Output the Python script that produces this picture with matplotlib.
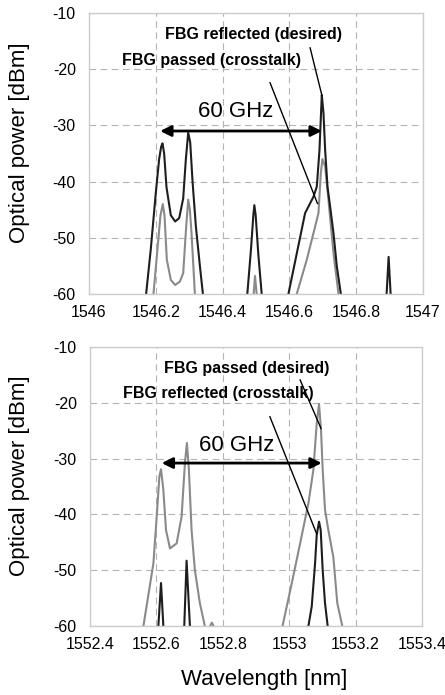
import matplotlib
matplotlib.use("Agg")
import matplotlib.pyplot as plt

plt.rcParams["font.family"] = ["Liberation Sans", "DejaVu Sans"]

# top panel (1546 nm band)
top_reflected_x = [1546.160, 1546.171, 1546.185, 1546.200, 1546.210, 1546.216, 1546.220, 1546.225,
                   1546.232, 1546.245, 1546.258, 1546.270, 1546.282, 1546.290, 1546.297, 1546.303,
                   1546.310, 1546.320, 1546.332, 1546.341, 1546.350,
                   1546.465, 1546.474, 1546.485, 1546.492, 1546.495, 1546.499, 1546.507, 1546.517, 1546.525,
                   1546.590, 1546.597, 1546.622, 1546.647, 1546.672, 1546.682, 1546.690, 1546.695, 1546.697,
                   1546.702, 1546.707, 1546.714, 1546.722, 1546.732, 1546.742, 1546.754, 1546.760,
                   1546.885, 1546.891, 1546.897, 1546.903, 1546.910]
top_reflected_y = [-66, -60, -52, -42, -36, -33.8, -33.2, -35,
                   -41, -46, -47.1, -46.5, -43, -36, -31.3, -33,
                   -40, -48, -55, -60, -66,
                   -66, -60, -52, -46, -44.2, -46, -53, -60, -66,
                   -66, -60, -52.8, -45.6, -42.7, -40.9, -34.4, -27.3, -24.6,
                   -27.8, -34.4, -40.9, -44.5, -49.2, -55.1, -60, -66,
                   -66, -60, -53.4, -60, -66]

top_passed_x = [1546.186, 1546.193, 1546.205, 1546.214, 1546.221, 1546.226, 1546.233, 1546.245,
                1546.258, 1546.272, 1546.282, 1546.291, 1546.297, 1546.302, 1546.307, 1546.317, 1546.325,
                1546.487, 1546.493, 1546.497, 1546.502, 1546.508,
                1546.615, 1546.622, 1546.652, 1546.677, 1546.687, 1546.694, 1546.699, 1546.707,
                1546.717, 1546.732, 1546.747, 1546.755]
top_passed_y = [-66, -60, -52, -46, -44.0, -46, -53.9, -57.5,
                -58.4, -57.8, -56.3, -48, -43.2, -45, -49.2, -60, -66,
                -66, -60, -56.8, -60, -66,
                -66, -60, -53.9, -48.0, -45.6, -38.5, -36.0, -37.3,
                -43.3, -52.8, -60, -66]

# bottom panel (1553 nm band)
bot_passed_x = [1552.552, 1552.561, 1552.591, 1552.601, 1552.609, 1552.614, 1552.621, 1552.629,
                1552.641, 1552.661, 1552.676, 1552.686, 1552.692, 1552.698, 1552.706, 1552.716,
                1552.731, 1552.746, 1552.755, 1552.762, 1552.767, 1552.772, 1552.780,
                1552.972, 1552.980, 1553.008, 1553.033, 1553.058, 1553.073, 1553.083, 1553.090,
                1553.096, 1553.101, 1553.108, 1553.118, 1553.133, 1553.145, 1553.160, 1553.168]
bot_passed_y = [-66, -60, -48.8, -40.4, -33.2, -31.9, -35.6, -42.8,
                -46.1, -45.2, -40.4, -30.8, -27.2, -32.0, -42.8, -50.0,
                -55.9, -60, -66, -60, -59.4, -60, -66,
                -66, -60, -52.3, -45.2, -38.0, -32.0, -23.7, -20.2,
                -24.9, -32.0, -39.2, -42.8, -47.6, -55.9, -60, -66]

bot_reflected_x = [1552.600, 1552.606, 1552.614, 1552.621, 1552.627,
                   1552.678, 1552.684, 1552.691, 1552.701, 1552.707,
                   1553.050, 1553.058, 1553.068, 1553.078, 1553.083, 1553.090, 1553.095,
                   1553.101, 1553.108, 1553.116, 1553.122]
bot_reflected_y = [-66, -60, -52.3, -60, -66,
                   -66, -60, -48.3, -60, -66,
                   -66, -60, -56.5, -48.8, -43.7, -41.3, -42.8,
                   -50.0, -55.9, -60, -66]

top_xticks = [1546, 1546.2, 1546.4, 1546.6, 1546.8, 1547]
top_xlabels = ["1546", "1546.2", "1546.4", "1546.6", "1546.8", "1547"]
bot_xticks = [1552.4, 1552.6, 1552.8, 1553, 1553.2, 1553.4]
bot_xlabels = ["1552.4", "1552.6", "1552.8", "1553", "1553.2", "1553.4"]
yticks = [-60, -50, -40, -30, -20, -10]

black = "#1e1e1e"
gray = "#8a8a8a"

fig = plt.figure(figsize=(4.45, 6.95), dpi=100)
ax1 = fig.add_axes([0.200, 0.577, 0.7506, 0.4043])
ax2 = fig.add_axes([0.2022, 0.0993, 0.746, 0.4014])


def style_axes(ax, xticks, xlabels, label_x):
    ax.set_xlim(xticks[0], xticks[-1])
    ax.set_ylim(-60, -10)
    ax.set_xticks(xticks)
    ax.set_xticklabels(xlabels)
    ax.set_yticks(yticks)
    ax.set_yticklabels([str(v) for v in yticks])
    ax.tick_params(length=0, labelsize=11.5, colors="black")
    ax.tick_params(axis="y", pad=9.5)
    ax.tick_params(axis="x", pad=8)
    ax.grid(True, color="#b4b4b4", linestyle=(0, (6, 4)), linewidth=0.8)
    ax.set_axisbelow(True)
    for s in ax.spines.values():
        s.set_color("#cccccc")
        s.set_linewidth(1.0)
    ax.set_ylabel("Optical power [dBm]", fontsize=16)
    ax.yaxis.set_label_coords(label_x, 0.54)


# top panel
ax1.plot(top_passed_x, top_passed_y, color=gray, lw=1.5)
ax1.plot(top_reflected_x, top_reflected_y, color=black, lw=1.5)
style_axes(ax1, top_xticks, top_xlabels, -0.177)
ax1.text(1546.492, -13.9, "FBG reflected (desired)", fontsize=11.5, fontweight="bold",
         ha="center", va="center")
ax1.text(1546.367, -18.5, "FBG passed (crosstalk)", fontsize=11.5, fontweight="bold",
         ha="center", va="center")
ax1.plot([1546.662, 1546.697], [-16.2, -24.6], color="black", lw=1.0)
ax1.plot([1546.542, 1546.684], [-22.4, -43.9], color="black", lw=1.0)
ax1.text(1546.4395, -27.6, "60 GHz", fontsize=16, ha="center", va="center")
ax1.annotate("", xy=(1546.213, -31.0), xytext=(1546.697, -31.0),
             arrowprops=dict(arrowstyle="<|-|>", color="black", lw=2, mutation_scale=16,
                             shrinkA=0, shrinkB=0))

# bottom panel
ax2.plot(bot_passed_x, bot_passed_y, color=gray, lw=1.5)
ax2.plot(bot_reflected_x, bot_reflected_y, color=black, lw=1.5)
style_axes(ax2, bot_xticks, bot_xlabels, -0.181)
ax2.text(1552.873, -13.9, "FBG passed (desired)", fontsize=11.5, fontweight="bold",
         ha="center", va="center")
ax2.text(1552.788, -18.4, "FBG reflected (crosstalk)", fontsize=11.5, fontweight="bold",
         ha="center", va="center")
ax2.plot([1553.033, 1553.096], [-15.9, -24.6], color="black", lw=1.0)
ax2.plot([1552.942, 1553.083], [-22.5, -43.5], color="black", lw=1.0)
ax2.text(1552.842, -27.6, "60 GHz", fontsize=16, ha="center", va="center")
ax2.annotate("", xy=(1552.616, -30.8), xytext=(1553.098, -30.8),
             arrowprops=dict(arrowstyle="<|-|>", color="black", lw=2, mutation_scale=16,
                             shrinkA=0, shrinkB=0))
ax2.set_xlabel("Wavelength [nm]", fontsize=16)
ax2.xaxis.set_label_coords(0.524, -0.155)

fig.savefig("out.png", dpi=100)
